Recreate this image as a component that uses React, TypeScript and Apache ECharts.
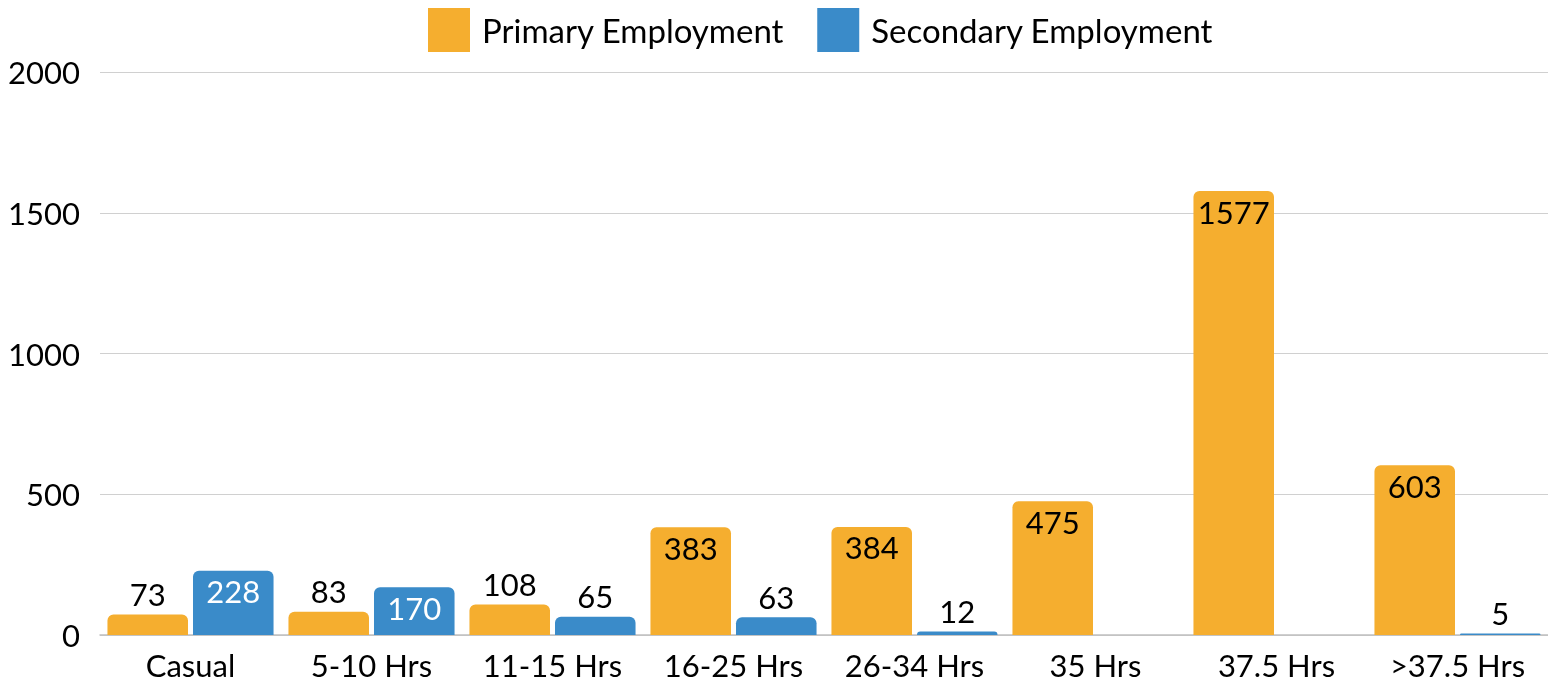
import React, { useEffect, useRef } from "react";
import * as echarts from "echarts";

const categories = ["Casual", "5-10 Hrs", "11-15 Hrs", "16-25 Hrs", "26-34 Hrs", "35 Hrs", "37.5 Hrs", ">37.5 Hrs"];
const primaryValues = [73, 83, 108, 383, 384, 475, 1577, 603];
const secondaryValues: (number | null)[] = [228, 170, 65, 63, 12, null, null, 5];
const seriesNames = ["Primary Employment", "Secondary Employment"];
const yTicks = { min: 0, max: 2000, interval: 500 };

const ORANGE = "#F5AE2F";
const BLUE = "#3A8BC9";
const FONT = "Lato";

function labelFor(v: number | null, insideColor: string) {
  if (v === null) return { value: v };
  const inside = v >= 150;
  return {
    value: v,
    label: {
      show: true,
      position: inside ? "insideTop" : "top",
      distance: 5,
      color: inside ? insideColor : "#000",
      fontSize: 31,
      fontFamily: FONT,
    },
  };
}

export default function App() {
  const ref = useRef<HTMLDivElement>(null);
  useEffect(() => {
    if (!ref.current) return;
    const chart = echarts.init(ref.current, undefined, { renderer: "svg" });
    chart.setOption({
      animation: false,
      textStyle: { fontFamily: FONT },
      legend: {
        top: 3,
        left: 423,
        itemWidth: 42,
        itemHeight: 44,
        itemGap: 33,
        icon: "rect",
        textStyle: { fontSize: 33, color: "#000", fontFamily: FONT, padding: [0, 0, 0, 7] },
        data: seriesNames,
      },
      grid: { left: 100, right: -8, top: 72, bottom: 51, containLabel: false },
      xAxis: {
        type: "category",
        data: categories,
        axisLine: { show: true, lineStyle: { color: "#BFBFBF", width: 1.5 } },
        axisTick: { show: false },
        axisLabel: { fontSize: 31, color: "#000", fontFamily: FONT, margin: 14, interval: 0 },
      },
      yAxis: {
        type: "value",
        min: yTicks.min,
        max: yTicks.max,
        interval: yTicks.interval,
        axisLine: { show: false },
        axisTick: { show: false },
        splitLine: { lineStyle: { color: "#D0D0D0", width: 1 } },
        axisLabel: {
          fontSize: 31,
          color: "#000",
          fontFamily: FONT,
          margin: 20,
          formatter: (v: number) => String(v),
        },
      },
      series: [
        {
          name: seriesNames[0],
          type: "bar",
          barWidth: "44.5%",
          barGap: "6.2%",
          itemStyle: { color: ORANGE, borderRadius: [6, 6, 0, 0] },
          data: primaryValues.map((v) => labelFor(v, "#000")),
        },
        {
          name: seriesNames[1],
          type: "bar",
          barWidth: "44.5%",
          barGap: "6.2%",
          itemStyle: { color: BLUE, borderRadius: [6, 6, 0, 0] },
          data: secondaryValues.map((v) => labelFor(v, "#fff")),
        },
      ],
    });
    return () => chart.dispose();
  }, []);
  return <div ref={ref} style={{ position: "fixed", left: 0, top: 0, width: 1548, height: 686 }} />;
}
